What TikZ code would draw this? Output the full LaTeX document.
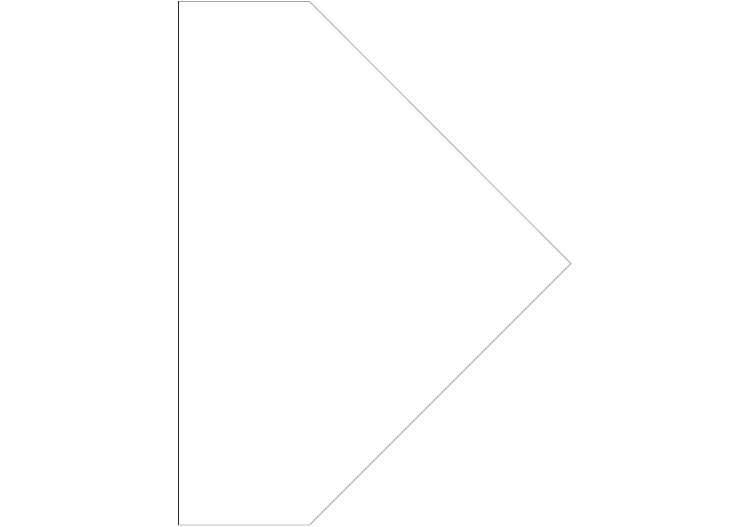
\documentclass[tikz,border=0pt]{standalone}
\usepackage{tikz}

\tikzset{
  outline/.style={draw=black!35, line width=0.8pt, line join=miter},
  backedge/.style={draw=black!85, line width=0.8pt}
}

\begin{document}
\begin{tikzpicture}[x=1pt, y=-1pt]

  % Frame of the picture
  \useasboundingbox (0,0) rectangle (750,527);

  % Corners of the shape
  \coordinate (topleft)     at (178.5,1.5);
  \coordinate (topright)    at (309.5,1.5);
  \coordinate (tip)         at (571,263.5);
  \coordinate (bottomright) at (309.5,525);
  \coordinate (bottomleft)  at (178.5,525);

  % Draw the outline
  \draw[outline] (topleft) -- (topright) -- (tip) -- (bottomright) -- (bottomleft);
  \draw[backedge] (topleft) -- (bottomleft);

\end{tikzpicture}
\end{document}
